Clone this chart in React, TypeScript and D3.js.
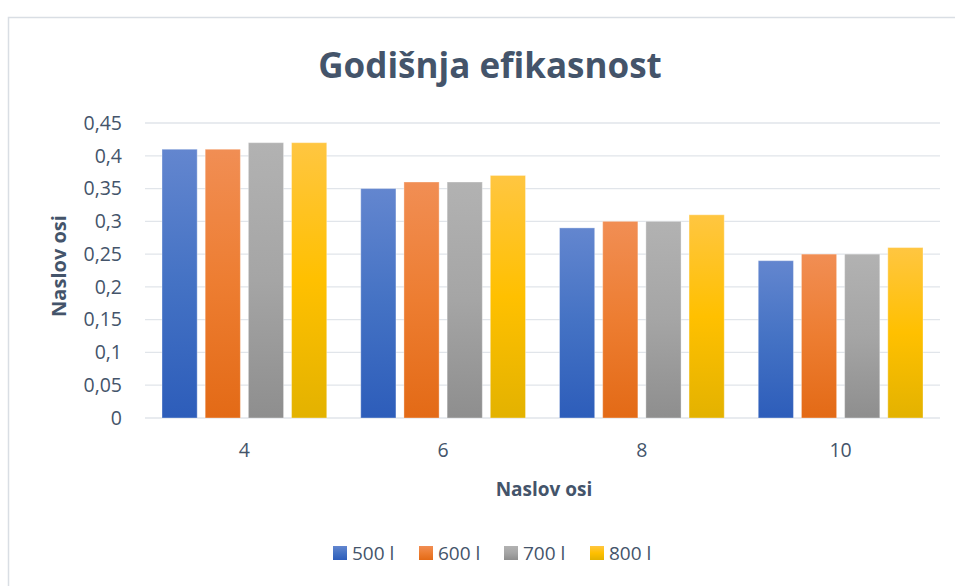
import { useEffect, useRef } from 'react';
import * as d3 from 'd3';

const categories = ['4', '6', '8', '10'];
const seriesNames = ['500 l', '600 l', '700 l', '800 l'];
const s500 = [0.41, 0.35, 0.29, 0.24];
const s600 = [0.41, 0.36, 0.3, 0.25];
const s700 = [0.42, 0.36, 0.3, 0.25];
const s800 = [0.42, 0.37, 0.31, 0.26];
const yTicks = [0, 0.05, 0.1, 0.15, 0.2, 0.25, 0.3, 0.35, 0.4, 0.45];

const palette = [
  { top: '#6386CF', mid: '#4472C4', bottom: '#2D5DBA' },
  { top: '#F18E54', mid: '#ED7D31', bottom: '#E36A16' },
  { top: '#B2B2B2', mid: '#A5A5A5', bottom: '#8E8E8E' },
  { top: '#FFC641', mid: '#FFC000', bottom: '#E3B200' },
];

const textColor = '#44546A';
const font = "'Open Sans', 'Liberation Sans', sans-serif";

export default function App() {
  const svgRef = useRef<SVGSVGElement>(null);

  useEffect(() => {
    if (!svgRef.current) return;
    const svg = d3.select(svgRef.current);
    svg.selectAll('*').remove();

    const width = 955;
    const height = 586;
    const margin = { top: 123, right: 15, bottom: 168, left: 145 };
    const series = [s500, s600, s700, s800];

    // chart frame
    svg.append('rect')
      .attr('x', 8.5).attr('y', 17.5)
      .attr('width', width + 20).attr('height', height + 20)
      .attr('fill', '#fff').attr('stroke', '#D9DEE4').attr('stroke-width', 1.5);

    const defs = svg.append('defs');
    palette.forEach((c, i) => {
      const g = defs.append('linearGradient')
        .attr('id', `bar-grad-${i}`)
        .attr('x1', '0%').attr('y1', '0%').attr('x2', '0%').attr('y2', '100%');
      g.append('stop').attr('offset', '0%').attr('stop-color', c.top);
      g.append('stop').attr('offset', '50%').attr('stop-color', c.mid);
      g.append('stop').attr('offset', '100%').attr('stop-color', c.bottom);
    });

    const innerW = 940 - margin.left;
    const innerH = 418 - margin.top;

    const x0 = d3.scaleBand<string>()
      .domain(categories)
      .range([margin.left, margin.left + innerW])
      .paddingInner(0)
      .paddingOuter(0);

    const x1 = d3.scaleBand<number>()
      .domain(d3.range(seriesNames.length))
      .range([17, x0.bandwidth() - 17])
      .paddingInner(0.185);

    const y = d3.scaleLinear()
      .domain([0, 0.45])
      .range([margin.top + innerH, margin.top]);

    // gridlines
    svg.append('g')
      .selectAll('line')
      .data(yTicks)
      .join('line')
      .attr('x1', margin.left)
      .attr('x2', margin.left + innerW)
      .attr('y1', d => y(d))
      .attr('y2', d => y(d))
      .attr('stroke', '#E1E5EA')
      .attr('stroke-width', 1.3);

    // y labels
    svg.append('g')
      .selectAll('text')
      .data(yTicks)
      .join('text')
      .attr('x', 122)
      .attr('y', d => y(d))
      .attr('dy', '0.35em')
      .attr('text-anchor', 'end')
      .attr('font-family', font)
      .attr('font-size', 19.5)
      .attr('fill', textColor)
      .text(d => d3.format('.2~f')(d).replace('.', ','));

    // bars
    const groups = svg.append('g')
      .selectAll('g')
      .data(categories)
      .join('g')
      .attr('transform', d => `translate(${x0(d)},0)`);

    groups.selectAll('rect')
      .data((_, ci) => series.map((s, si) => ({ si, v: s[ci] })))
      .join('rect')
      .attr('x', d => x1(d.si)!)
      .attr('width', x1.bandwidth())
      .attr('y', d => y(d.v))
      .attr('height', d => y(0) - y(d.v))
      .attr('fill', d => `url(#bar-grad-${d.si})`)
      .attr('stroke', '#ffffff')
      .attr('stroke-opacity', 0.35)
      .attr('stroke-width', 1);

    // x labels
    svg.append('g')
      .selectAll('text')
      .data(categories)
      .join('text')
      .attr('x', d => x0(d)! + x0.bandwidth() / 2)
      .attr('y', 457)
      .attr('text-anchor', 'middle')
      .attr('font-family', font)
      .attr('font-size', 19.5)
      .attr('fill', textColor)
      .text(d => d);

    // title
    svg.append('text')
      .attr('x', 490)
      .attr('y', 78)
      .attr('text-anchor', 'middle')
      .attr('font-family', font)
      .attr('font-weight', 'bold')
      .attr('font-size', 35)
      .attr('fill', textColor)
      .text('Godišnja efikasnost');

    // axis titles
    svg.append('text')
      .attr('x', 544)
      .attr('y', 496)
      .attr('text-anchor', 'middle')
      .attr('font-family', font)
      .attr('font-weight', 'bold')
      .attr('font-size', 19)
      .attr('fill', textColor)
      .text('Naslov osi');

    svg.append('text')
      .attr('transform', `translate(66,266) rotate(-90)`)
      .attr('text-anchor', 'middle')
      .attr('font-family', font)
      .attr('font-weight', 'bold')
      .attr('font-size', 20)
      .attr('fill', textColor)
      .text('Naslov osi');

    // legend
    const legendX = [333, 419, 504, 590];
    const legend = svg.append('g')
      .selectAll('g')
      .data(seriesNames)
      .join('g')
      .attr('transform', (_, i) => `translate(${legendX[i]},553)`);

    legend.append('rect')
      .attr('x', 0).attr('y', -7)
      .attr('width', 14).attr('height', 14)
      .attr('fill', (_, i) => `url(#bar-grad-${i})`);

    legend.append('text')
      .attr('x', 19)
      .attr('y', 0)
      .attr('dy', '0.35em')
      .attr('font-family', font)
      .attr('font-size', 19)
      .attr('fill', textColor)
      .text(d => d);
  }, []);

  return (
    <svg
      ref={svgRef}
      width={955}
      height={586}
      style={{ display: 'block', position: 'absolute', left: 0, top: 0 }}
    />
  );
}
